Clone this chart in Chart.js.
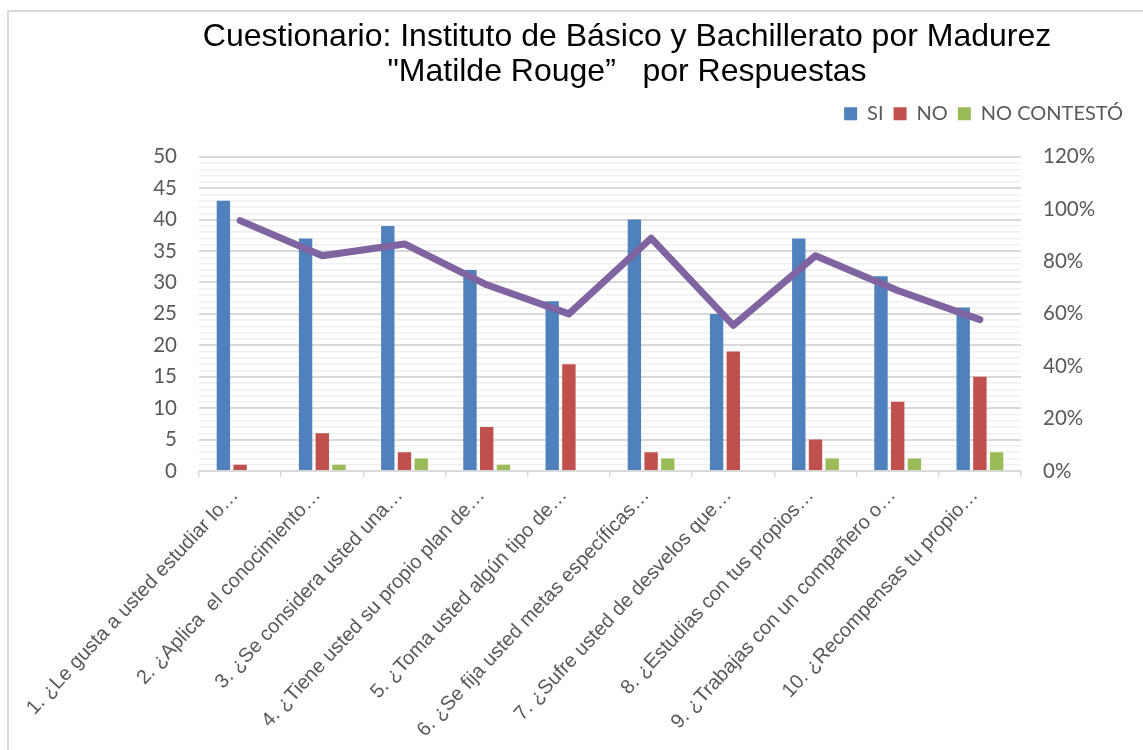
<!DOCTYPE html>
<html>
<head>
<meta charset="utf-8">
<script src="https://cdn.jsdelivr.net/npm/chart.js@4/dist/chart.umd.min.js"></script>
<style>
  html, body { margin: 0; padding: 0; background: #ffffff; }
  #frame { position: absolute; left: 7px; top: 10px; width: 1136px; height: 740px;
           border-left: 2px solid #D9D9D9; border-top: 2px solid #D9D9D9; box-sizing: border-box; }
  #wrap { position: absolute; left: 0; top: 0; width: 1143px; height: 750px; }
</style>
</head>
<body>
<div id="frame"></div>
<div id="wrap"><canvas id="c"></canvas></div>
<script>
const categories = [
  "1. ¿Le gusta a usted estudiar lo…",
  "2. ¿Aplica  el conocimiento…",
  "3. ¿Se considera usted una…",
  "4. ¿Tiene usted su propio plan de…",
  "5. ¿Toma usted algún tipo de…",
  "6. ¿Se fija usted metas específicas…",
  "7. ¿Sufre usted de desvelos que…",
  "8. ¿Estudias con tus propios…",
  "9. ¿Trabajas con un compañero o…",
  "10. ¿Recompensas tu propio…"
];
const si = [43, 37, 39, 32, 27, 40, 25, 37, 31, 26];
const no = [1, 6, 3, 7, 17, 3, 19, 5, 11, 15];
const noContesto = [0, 1, 2, 1, 0, 2, 0, 2, 2, 3];
const porcentajeSi = [0.956, 0.822, 0.867, 0.711, 0.600, 0.889, 0.556, 0.822, 0.689, 0.578];
const titleLines = ["Cuestionario: Instituto de Básico y Bachillerato por Madurez", "\"Matilde Rouge”   por Respuestas"];
const leftTicks = [0, 5, 10, 15, 20, 25, 30, 35, 40, 45, 50];
const rightTicks = [0, 0.2, 0.4, 0.6, 0.8, 1.0, 1.2];

const legendSpacer = {
  id: 'legendSpacer',
  afterInit(chart) {
    const lg = chart.legend;
    if (lg) {
      const f = lg.fit;
      lg.fit = function () { f.call(this); this.height += 23; };
    }
  }
};

new Chart(document.getElementById('c'), {
  type: 'bar',
  data: {
    labels: categories,
    datasets: [
      { type: 'line', label: '%', data: porcentajeSi, yAxisID: 'y1', borderColor: '#8064A2',
        backgroundColor: '#8064A2', borderWidth: 7, pointRadius: 0, tension: 0,
        borderCapStyle: 'round', borderJoinStyle: 'round', order: 0 },
      { label: 'SI', data: si, backgroundColor: '#4F81BD', yAxisID: 'y', order: 1 },
      { label: 'NO', data: no, backgroundColor: '#C0504D', yAxisID: 'y', order: 1 },
      { label: 'NO CONTESTÓ', data: noContesto, backgroundColor: '#9BBB59', yAxisID: 'y', order: 1 }
    ]
  },
  options: {
    responsive: true,
    maintainAspectRatio: false,
    animation: false,
    devicePixelRatio: 1,
    layout: { padding: { top: 10, left: 121, right: 10, bottom: 0 } },
    datasets: { bar: { categoryPercentage: 0.61, barPercentage: 0.8 } },
    plugins: {
      title: {
        display: true, text: titleLines, color: '#000000',
        font: { family: '"Liberation Sans", Arial, sans-serif', size: 32, weight: 'normal', lineHeight: 1.09 },
        padding: { top: 10, bottom: 4 }
      },
      legend: {
        display: true, position: 'top', align: 'end',
        labels: {
          boxWidth: 13, boxHeight: 13, padding: 10, color: '#595959',
          font: { family: 'Lato, "Open Sans", sans-serif', size: 20 },
          filter: (item) => item.datasetIndex !== 0
        }
      },
      tooltip: { enabled: false }
    },
    scales: {
      x: {
        offset: true,
        grid: { display: true, offset: true, drawOnChartArea: false, drawTicks: true, tickLength: 6, color: '#D9D9D9', lineWidth: 1.5 },
        border: { display: true, color: '#D9D9D9', width: 2 },
        ticks: {
          autoSkip: false, minRotation: 47, maxRotation: 47, padding: 7, labelOffset: -5, color: '#595959',
          font: { family: '"Liberation Sans", Arial, sans-serif', size: 20 }
        },
        afterFit(s) { s.height = 279; }
      },
      y: {
        position: 'left', min: 0, max: 50,
        afterBuildTicks(s) {
          const t = [];
          for (let v = 0; v <= 50; v++) t.push({ value: v });
          s.ticks = t;
        },
        ticks: {
          autoSkip: false, padding: 22, color: '#595959',
          font: { family: 'Lato, "Open Sans", sans-serif', size: 20.5 },
          callback: (v) => leftTicks.includes(v) ? String(v) : ''
        },
        grid: {
          drawTicks: false,
          color: (ctx) => (ctx.tick && ctx.tick.value % 5 === 0) ? '#D9D9D9' : '#F0F0F0',
          lineWidth: (ctx) => (ctx.tick && ctx.tick.value % 5 === 0) ? 2 : 1.5
        },
        border: { display: false },
        afterFit(s) { s.width = 78; }
      },
      y1: {
        position: 'right', min: 0, max: 1.2,
        afterBuildTicks(s) { s.ticks = rightTicks.map(v => ({ value: v })); },
        ticks: {
          padding: 22, color: '#595959',
          font: { family: 'Lato, "Open Sans", sans-serif', size: 20.5 },
          callback: (v) => Math.round(v * 100) + '%'
        },
        grid: { display: false, drawTicks: false },
        border: { display: false },
        afterFit(s) { s.width = 112; }
      }
    }
  },
  plugins: [legendSpacer]
});
</script>
</body>
</html>
